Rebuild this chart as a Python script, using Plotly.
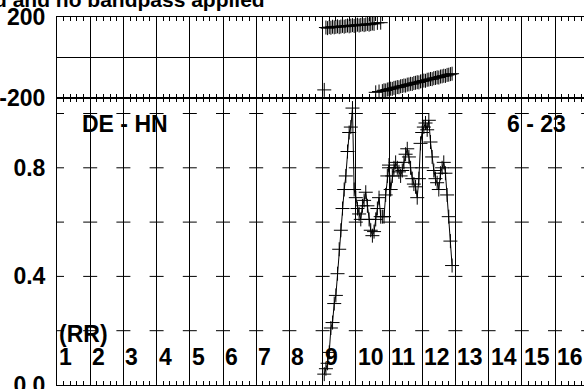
import plotly.graph_objects as go

# ---------------- data ----------------
FREQ = [9.05, 9.10, 9.15, 9.20, 9.25, 9.30, 9.35, 9.40, 9.45, 9.50,
        9.55, 9.60, 9.65, 9.70, 9.75, 9.80, 9.85, 9.90, 9.95, 10.00,
        10.05, 10.10, 10.15, 10.20, 10.25, 10.30, 10.35, 10.40, 10.45, 10.50,
        10.55, 10.60, 10.65, 10.70, 10.75, 10.80, 10.85, 10.90, 10.95, 11.00,
        11.05, 11.10, 11.15, 11.20, 11.25, 11.30, 11.35, 11.40, 11.45, 11.50,
        11.55, 11.60, 11.65, 11.70, 11.75, 11.80, 11.85, 11.90, 11.95, 12.00,
        12.05, 12.10, 12.15, 12.20, 12.25, 12.30, 12.35, 12.40, 12.45, 12.50,
        12.55, 12.60, 12.65, 12.70, 12.75, 12.80, 12.85, 12.90]

COHERENCE = [0.04, 0.06, 0.08, 0.12, 0.21, 0.23, 0.30, 0.33, 0.41, 0.50,
             0.57, 0.65, 0.72, 0.77, 0.86, 0.93, 0.95, 1.02, 0.72, 0.69,
             0.65, 0.63, 0.61, 0.66, 0.68, 0.71, 0.66, 0.61, 0.57, 0.55,
             0.565, 0.61, 0.65, 0.69, 0.62, 0.62, 0.62, 0.70, 0.77, 0.81,
             0.72, 0.77, 0.80, 0.82, 0.80, 0.785, 0.77, 0.79, 0.82, 0.85,
             0.87, 0.84, 0.80, 0.76, 0.74, 0.73, 0.69, 0.76, 0.89, 0.93,
             0.95, 0.965, 0.94, 0.975, 0.895, 0.84, 0.79, 0.76, 0.745, 0.72,
             0.78, 0.80, 0.82, 0.78, 0.70, 0.62, 0.53, 0.44]

PHASE = [-160,
         148, 145, 150, 147, 152, 149, 151, 154, 150, 153,
         156, 152, 155, 158, 154, 157, 160, 156, 159, 162,
         158, 161, 164, 160, 163, 166, 162, 165, 168, 166,
         -172, 171, -168, 172,
         -166, -162, -163, -158, -157, -154, -155, -150, -149, -146,
         -147, -142, -141, -138, -139, -134, -133, -130, -131, -126,
         -125, -122, -123, -118, -117, -114, -115, -110, -109, -106,
         -107, -102, -101, -98, -99, -94, -93, -90, -91, -86,
         -85, -82, -80]

XTICK_VALS = [1, 2, 3, 4, 5, 6, 7, 8, 9, 10, 11, 12, 13, 14, 15, 16]
XTICK_LABELS = ["1", "2", "3", "4", "5", "6", "7", "8", "9", "10",
                "11", "12", "13", "14", "15", "16"]
GRID_X = [1, 2, 3, 4, 5, 6, 7, 8, 9, 10, 11, 12, 13, 14, 15, 16, 17]
COH_TICKS = [0.2, 0.4, 0.6, 0.8, 1.0]
COH_LABEL_VALS = [0.0, 0.4, 0.8]
COH_LABELS = ["0.0", "0.4", "0.8"]
PHASE_TICK_VALS = [-200, 0, 200]
PHASE_TICK_LABELS = ["-200", "", "200"]

TITLE = "d and no bandpass applied"
PAIR_LABEL = "DE - HN"
RANGE_LABEL = "6 - 23"
UNIT_LABEL = "(RR)"

# ---------------- styling ----------------
FONT = "Liberation Sans, Arial, Helvetica, sans-serif"
LBL = dict(family=FONT, size=23, color="black", weight="bold")

W, H = 584, 389
ML, MR, MT, MB = 57, 0, 17, 4
PLOT_H = H - MT - MB
SPLIT = (H - MB - 98) / PLOT_H

fig = go.Figure()

# grid tick crosses in coherence panel
gx, gy = [], []
for xv in GRID_X:
    for yv in COH_TICKS:
        gx.append(xv)
        gy.append(yv)
fig.add_trace(go.Scatter(
    x=gx, y=gy, mode="markers", xaxis="x", yaxis="y",
    marker=dict(symbol="line-ew", size=10, line=dict(color="black", width=1)),
    hoverinfo="skip", cliponaxis=True))

# coherence
fig.add_trace(go.Scatter(
    x=FREQ, y=COHERENCE, mode="lines+markers", xaxis="x", yaxis="y",
    line=dict(color="black", width=1),
    marker=dict(symbol="cross-thin", size=10, color="black",
                line=dict(color="black", width=1))))

# phase
fig.add_trace(go.Scatter(
    x=FREQ, y=PHASE, mode="markers", xaxis="x2", yaxis="y2",
    marker=dict(symbol="cross-thin", size=10, color="black",
                line=dict(color="black", width=1))))

xr = [1, 1 + (W - ML) / 33.2]
xcommon = dict(range=xr, showgrid=True, gridcolor="black", gridwidth=1,
               tick0=1, dtick=1, ticks="inside", ticklen=4, tickcolor="black",
               showticklabels=False, showline=True, linecolor="black",
               linewidth=1, mirror="ticks", zeroline=False, automargin=False,
               minor=dict(tick0=1, dtick=0.2, ticks="inside", ticklen=4,
                          tickcolor="black", showgrid=False))

annotations = []
for xv, lab in zip(XTICK_VALS, XTICK_LABELS):
    annotations.append(dict(x=xv, y=0.103, xref="x", yref="y", text=lab,
                            showarrow=False, xanchor="left", yanchor="middle",
                            xshift=0, font=LBL))
annotations.append(dict(x=1, y=0.188, xref="x", yref="y", text=UNIT_LABEL,
                        showarrow=False, xanchor="left", yanchor="middle",
                        font=LBL))
annotations.append(dict(x=1.69, y=0.963, xref="x", yref="y", text=PAIR_LABEL,
                        showarrow=False, xanchor="left", yanchor="middle",
                        font=LBL))
annotations.append(dict(x=14.5, y=0.963, xref="x", yref="y", text=RANGE_LABEL,
                        showarrow=False, xanchor="left", yanchor="middle",
                        font=LBL))
annotations.append(dict(x=(267 - ML) / (W - ML), y=1 + 17 / PLOT_H,
                        xref="paper", yref="paper", text=TITLE,
                        showarrow=False, xanchor="right", yanchor="middle",
                        font=dict(family=FONT, size=21, color="black",
                                  weight="bold")))

fig.update_layout(
    width=W, height=H,
    margin=dict(l=ML, r=MR, t=MT, b=MB, pad=0, autoexpand=False),
    paper_bgcolor="white", plot_bgcolor="white",
    showlegend=False,
    xaxis=dict(anchor="y", domain=[0, 1], **xcommon),
    xaxis2=dict(anchor="y2", domain=[0, 1], matches="x", **xcommon),
    yaxis=dict(anchor="x", domain=[0, SPLIT], range=[0, (H - MB - 98) / 271.5],
               tickvals=COH_LABEL_VALS, ticktext=COH_LABELS, tickfont=LBL,
               showgrid=False, zeroline=False, showline=True, automargin=False,
               linecolor="black", linewidth=1, ticks="", ticklabelstandoff=6,
               ticklabeloverflow="allow"),
    yaxis2=dict(anchor="x2", domain=[SPLIT, 1], range=[-200, 200],
                tickvals=PHASE_TICK_VALS, ticktext=PHASE_TICK_LABELS,
                tickfont=LBL, showgrid=True, gridcolor="black", gridwidth=1,
                zeroline=False, showline=True, linecolor="black",
                linewidth=1, ticks="", automargin=False, ticklabelstandoff=6,
                ticklabeloverflow="allow"),
    annotations=annotations,
)

fig.write_html("out.html",
               config={"displayModeBar": False},
               post_script="document.body.style.margin='0';"
                           "document.body.style.overflow='hidden';")
